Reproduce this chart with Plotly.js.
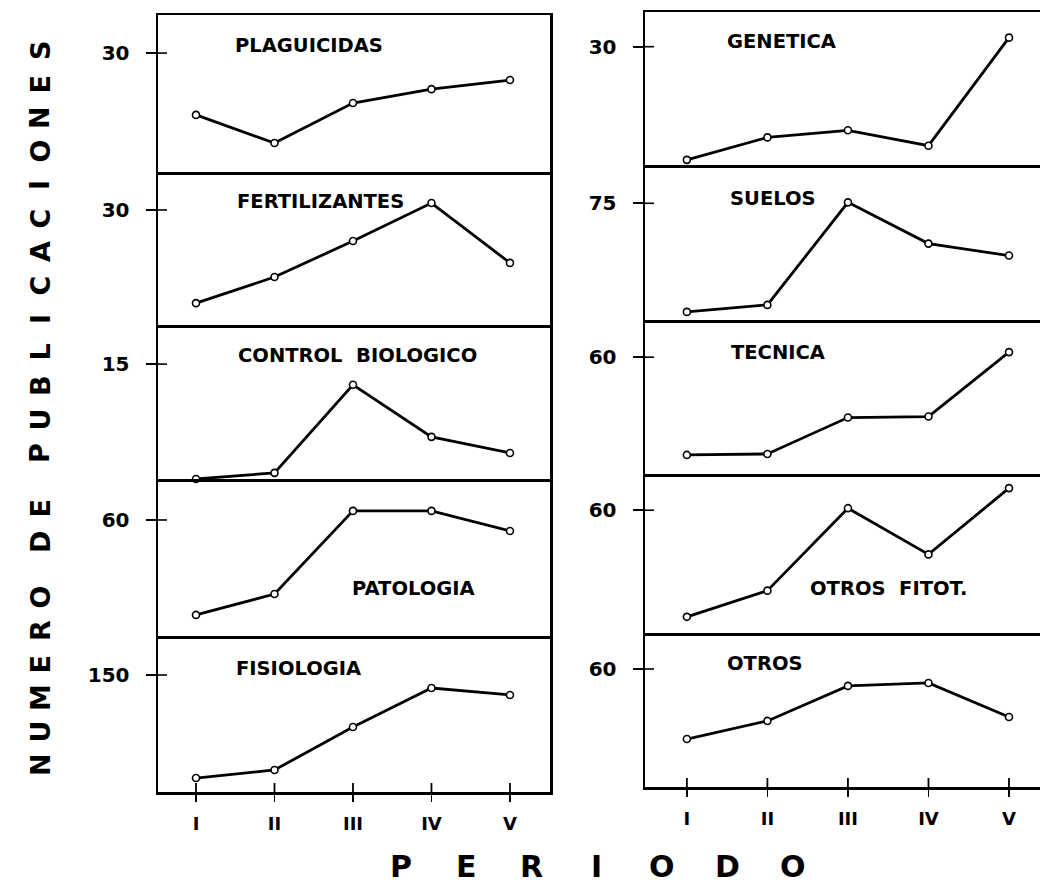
<!DOCTYPE html>
<html><head><meta charset="utf-8">
<script src="https://cdn.plot.ly/plotly-3.0.1.min.js"></script>
<style>html,body{margin:0;padding:0;background:#fff}</style>
</head><body><div id="chart" style="width:1040px;height:883px"></div>
<script>
// ---- data ----
const periods = ['I', 'II', 'III', 'IV', 'V'];
const plaguicidas = [14.4, 7.3, 17.4, 20.9, 23.2];
const fertilizantes = [5.7, 12.5, 21.9, 31.8, 16.2];
const controlBiologico = [0, 0.8, 12.3, 5.5, 3.4];
const patologia = [10.9, 21.7, 64.7, 64.7, 54.3];
const fisiologia = [17.9, 28.2, 83.3, 133.3, 124.4];
const genetica = [1.3, 7.0, 8.8, 4.9, 32.3];
const suelos = [5.2, 9.7, 75.6, 49.1, 41.4];
const tecnica = [9.8, 10.3, 29.0, 29.5, 62.6];
const otrosFitot = [7.9, 20.7, 61.0, 38.4, 70.8];
const otros = [24.4, 33.6, 51.4, 52.9, 35.6];

const panelNames = ['PLAGUICIDAS', 'FERTILIZANTES', 'CONTROL\u00A0 BIOLOGICO', 'PATOLOGIA', 'FISIOLOGIA',
                    'GENETICA', 'SUELOS', 'TECNICA', 'OTROS\u00A0 FITOT.', 'OTROS'];
const panelSeries = [plaguicidas, fertilizantes, controlBiologico, patologia, fisiologia,
                     genetica, suelos, tecnica, otrosFitot, otros];
const tickValues = [30, 30, 15, 60, 150, 30, 75, 60, 60, 60];
const axisMax = [39.6, 39.9, 20.1, 81.2, 200, 38.8, 99.6, 79.1, 77.7, 78.3];
const yTitle = 'NUMERO DE PUBLICACIONES';
const xTitle = 'PERIODO';

// ---- layout geometry (pixels) ----
const W = 1040, H = 883;
const colX = [[158, 550], [645, 1040]];
const colXRange = [[-0.484, 4.51], [-0.52, 4.385]];
const rowBounds = [[15, 172, 325, 479, 636, 792], [12, 165, 320, 474, 633, 787]];
// label placement: [left px, center y px]
const labelPos = [[233, 45], [235, 202], [236, 355], [350, 588], [234, 668],
                  [725, 42], [728, 198], [729, 352], [808, 588], [725, 663]];

const FONT = 'DejaVu Sans, Arial, sans-serif';
const px = v => v / W, py = v => 1 - v / H;

const traces = [], layout = {
  width: W, height: H, autosize: false, showlegend: false,
  margin: {l: 0, r: 0, t: 0, b: 0, pad: 0},
  paper_bgcolor: '#fff', plot_bgcolor: '#fff',
  annotations: [], shapes: []
};

for (let i = 0; i < 10; i++) {
  const col = i < 5 ? 0 : 1, row = i % 5;
  const id = i + 1;
  const xa = 'xaxis' + id, ya = 'yaxis' + id;
  const top = rowBounds[col][row], bot = rowBounds[col][row + 1];
  const isBottom = row === 4;
  traces.push({
    type: 'scatter', mode: 'lines+markers', x: periods, y: panelSeries[i],
    xaxis: 'x' + id, yaxis: 'y' + id, cliponaxis: false,
    line: {color: '#000', width: 2.8},
    marker: {symbol: 'circle', size: 7, color: '#fff', line: {color: '#000', width: 1.6}},
    hoverinfo: 'skip'
  });
  layout[xa] = {
    domain: [px(colX[col][0]), px(colX[col][1])], anchor: 'y' + id,
    type: 'category', range: colXRange[col],
    showline: true, linecolor: '#000', linewidth: 2.5, mirror: row === 0,
    showgrid: false, zeroline: false,
    ticks: isBottom ? 'outside' : '', ticklen: 7, tickwidth: 1.8, tickcolor: '#000',
    showticklabels: isBottom, ticklabelstandoff: 7,
    tickfont: {family: FONT, size: 18, color: '#000', weight: 'bold'}
  };
  layout[ya] = {
    domain: [py(bot), py(top)], anchor: 'x' + id,
    range: [0, axisMax[i]],
    showline: true, linecolor: '#000', linewidth: 2.5, mirror: col === 0,
    showgrid: false, zeroline: false,
    ticks: 'outside', ticklen: 10, tickwidth: 1.6, tickcolor: '#000',
    tickvals: [tickValues[i]], ticktext: [String(tickValues[i])],
    ticklabelstandoff: 12,
    tickfont: {family: FONT, size: 20, color: '#000', weight: 'bold'}
  };
  // inner half of the crossing tick on the y axis
  layout.shapes.push({type: 'line', xref: 'x' + id + ' domain', yref: 'y' + id,
    x0: 0, x1: 9 / (colX[col][1] - colX[col][0]), y0: tickValues[i], y1: tickValues[i],
    line: {color: '#000', width: 1.6}});
  if (isBottom) {
    periods.forEach(p => layout.shapes.push({type: 'line', xref: 'x' + id, yref: 'y' + id + ' domain',
      x0: p, x1: p, y0: 0, y1: 9 / (bot - top), line: {color: '#000', width: 1.8}}));
  }
  layout.annotations.push({
    xref: 'paper', yref: 'paper', x: px(labelPos[i][0]), y: py(labelPos[i][1]),
    xanchor: 'left', yanchor: 'middle', showarrow: false, text: panelNames[i],
    font: {family: FONT, size: 19.5, color: '#000', weight: 'bold'}
  });
}

// vertical axis title, letter by letter (spaced lettering)
(function () {
  let y = 765;
  const step = 33.5, gap = 22;
  for (const ch of yTitle) {
    if (ch === ' ') { y -= gap; continue; }
    layout.annotations.push({xref: 'paper', yref: 'paper', x: px(40), y: py(y),
      xanchor: 'center', yanchor: 'middle', textangle: -90, showarrow: false, text: ch,
      font: {family: FONT, size: 27, color: '#000', weight: 'bold'}});
    y -= step;
  }
})();
// horizontal axis title
(function () {
  let x = 401;
  const step = 65.3;
  for (const ch of xTitle) {
    layout.annotations.push({xref: 'paper', yref: 'paper', x: px(x), y: py(866),
      xanchor: 'center', yanchor: 'middle', showarrow: false, text: ch,
      font: {family: FONT, size: 30, color: '#000', weight: 'bold'}});
    x += step;
  }
})();

Plotly.newPlot('chart', traces, layout, {staticPlot: true, displayModeBar: false});
</script></body></html>
